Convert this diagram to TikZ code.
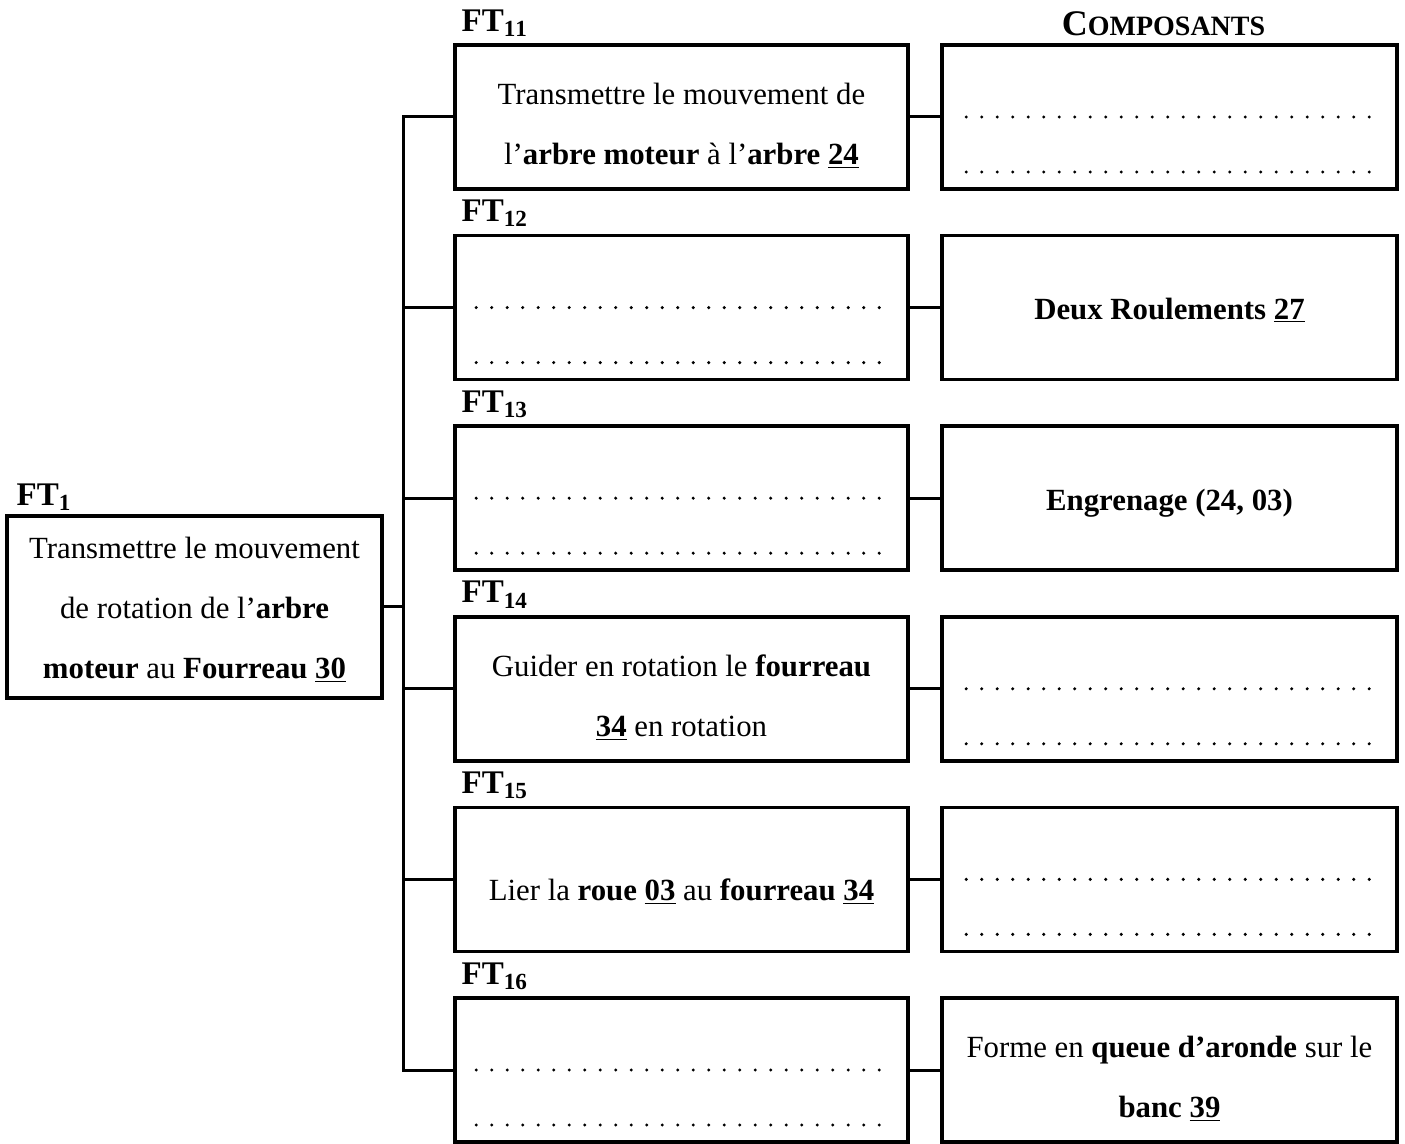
\documentclass[tikz,border=0pt]{standalone}
\usepackage{fontspec}
\setmainfont{Liberation Serif}
\usepackage{tikz}

\newcommand{\liftby}[1]{\rule{0pt}{#1}}
\tikzset{
  funcbox/.style={draw, line width=1.8pt, minimum width=226.5pt, minimum height=72pt,
    inner sep=0pt, align=center, font=\fontsize{15.4}{30}\selectfont},
  ftlab/.style={anchor=base west, inner sep=0pt, font=\fontsize{16.5}{16.5}\selectfont\bfseries},
  dotrow/.style={line width=1.7pt, line cap=round, dash pattern=on 0pt off 7.75pt},
  link/.style={line width=1.5pt}
}

\begin{document}
\begin{tikzpicture}[x=0.5pt,y=-0.5pt]
\useasboundingbox (0,0) rectangle (1405,1144);
%main function
\node[funcbox, minimum width=187.5pt, minimum height=91pt] (ft1) at (194.5,607)
  {\liftby{13.5pt}Transmettre le mouvement\\de rotation de l'\textbf{arbre}\\\textbf{moteur} au \textbf{Fourreau \underline{30}}};
\node[ftlab] (ft1lab) at ([shift={(11,-9)}]ft1.north west) {FT$_{\mathbf{1}}$};
%sub functions
\node[funcbox] (m1) at (681.5,117)
  {\liftby{19.5pt}Transmettre le mouvement de\\l'\textbf{arbre moteur} à l'\textbf{arbre \underline{24}}};
\node[funcbox] (m2) at (681.5,307.6) {};
\node[funcbox] (m3) at (681.5,498.2) {};
\node[funcbox] (m4) at (681.5,688.8)
  {\liftby{19.5pt}Guider en rotation le \textbf{fourreau}\\\textbf{\underline{34}} en rotation};
\node[funcbox] (m5) at (681.5,879.4)
  {\liftby{23pt}Lier la \textbf{roue \underline{03}} au \textbf{fourreau \underline{34}}};
\node[funcbox] (m6) at (681.5,1070) {};
\node[ftlab] (ft11) at ([shift={(8,-12)}]m1.north west) {FT$_{\mathbf{11}}$};
\node[ftlab] (ft12) at ([shift={(8,-12)}]m2.north west) {FT$_{\mathbf{12}}$};
\node[ftlab] (ft13) at ([shift={(8,-12)}]m3.north west) {FT$_{\mathbf{13}}$};
\node[ftlab] (ft14) at ([shift={(8,-12)}]m4.north west) {FT$_{\mathbf{14}}$};
\node[ftlab] (ft15) at ([shift={(8,-12)}]m5.north west) {FT$_{\mathbf{15}}$};
\node[ftlab] (ft16) at ([shift={(8,-12)}]m6.north west) {FT$_{\mathbf{16}}$};
%components
\node[funcbox, minimum width=227.5pt] (r1) at (1169.5,117) {};
\node[funcbox, minimum width=227.5pt] (r2) at (1169.5,307.6) {\liftby{13.5pt}\textbf{Deux Roulements \underline{27}}};
\node[funcbox, minimum width=227.5pt] (r3) at (1169.5,498.2) {\liftby{16pt}\textbf{Engrenage (24, 03)}};
\node[funcbox, minimum width=227.5pt] (r4) at (1169.5,688.8) {};
\node[funcbox, minimum width=227.5pt] (r5) at (1169.5,879.4) {};
\node[funcbox, minimum width=227.5pt] (r6) at (1169.5,1070)
  {\liftby{19.5pt}Forme en \textbf{queue d'aronde} sur le\\\textbf{banc \underline{39}}};
\node[anchor=base, inner sep=0pt, font=\fontsize{18}{18}\selectfont\bfseries] (comp)
  at ([shift={(-6,-8)}]r1.north) {C{\fontsize{14}{14}\selectfont OMPOSANTS}};
%links
\coordinate (bus) at (403,607);
\draw[link] (ft1.east) -- (bus);
\draw[link] (m1.west) -| (bus);
\draw[link] (m6.west) -| (bus);
\draw[link] (m2.west) -- (m2.west -| bus);
\draw[link] (m3.west) -- (m3.west -| bus);
\draw[link] (m4.west) -- (m4.west -| bus);
\draw[link] (m5.west) -- (m5.west -| bus);
\draw[link] (m1.east) -- (r1.west);
\draw[link] (m2.east) -- (r2.west);
\draw[link] (m3.east) -- (r3.west);
\draw[link] (m4.east) -- (r4.west);
\draw[link] (m5.east) -- (r5.west);
\draw[link] (m6.east) -- (r6.west);
%dots to fill
\draw[dotrow] ([shift={(23,0)}]m2.west) -- ([shift={(-25,0)}]m2.east);
\draw[dotrow] ([shift={(23,55)}]m2.west) -- ([shift={(-25,55)}]m2.east);
\draw[dotrow] ([shift={(23,0)}]m3.west) -- ([shift={(-25,0)}]m3.east);
\draw[dotrow] ([shift={(23,55)}]m3.west) -- ([shift={(-25,55)}]m3.east);
\draw[dotrow] ([shift={(23,0)}]m6.west) -- ([shift={(-25,0)}]m6.east);
\draw[dotrow] ([shift={(23,55)}]m6.west) -- ([shift={(-25,55)}]m6.east);
\draw[dotrow] ([shift={(26,0)}]r1.west) -- ([shift={(-25,0)}]r1.east);
\draw[dotrow] ([shift={(26,55)}]r1.west) -- ([shift={(-25,55)}]r1.east);
\draw[dotrow] ([shift={(26,0)}]r4.west) -- ([shift={(-25,0)}]r4.east);
\draw[dotrow] ([shift={(26,55)}]r4.west) -- ([shift={(-25,55)}]r4.east);
\draw[dotrow] ([shift={(26,0)}]r5.west) -- ([shift={(-25,0)}]r5.east);
\draw[dotrow] ([shift={(26,55)}]r5.west) -- ([shift={(-25,55)}]r5.east);
\end{tikzpicture}
\end{document}
